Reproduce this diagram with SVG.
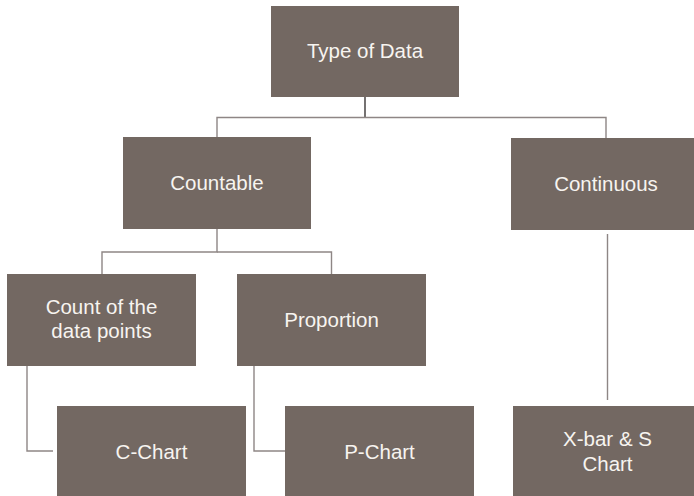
<svg xmlns="http://www.w3.org/2000/svg" width="694" height="496" viewBox="0 0 694 496">
<style>
.box{fill:#736862}
.lbl{font-family:"Liberation Sans",Arial,sans-serif;font-size:20.5px;fill:#f7f4f0;text-anchor:middle}
.ln{fill:none;stroke:#8e8685;stroke-width:1.4}
</style>
<rect width="694" height="496" fill="#ffffff"/>
<g id="connectors">
<path class="ln" d="M365,97 V117" style="stroke:#3a3535"/>
<path class="ln" d="M217,137 V117.5 H606 V138"/>
<path class="ln" d="M217,229 V252 H102 V274"/>
<path class="ln" d="M217,252 H331.5 V274"/>
<path class="ln" d="M607.5,234 V400"/>
<path class="ln" d="M27,366 V451 H53"/>
<path class="ln" d="M254,366 V451 H285"/>
</g>
<g id="type-of-data"><rect class="box" x="271" y="6" width="188" height="91"/><text class="lbl" x="365" y="58">Type of Data</text></g>
<g id="countable"><rect class="box" x="123" y="137" width="188" height="92"/><text class="lbl" x="217" y="190">Countable</text></g>
<g id="continuous"><rect class="box" x="511" y="138" width="189" height="92"/><text class="lbl" x="606" y="190.5">Continuous</text></g>
<g id="count"><rect class="box" x="7" y="274" width="189" height="92"/><text class="lbl" x="101.5" y="314">Count of the</text><text class="lbl" x="101.5" y="338">data points</text></g>
<g id="proportion"><rect class="box" x="237" y="274" width="189" height="92"/><text class="lbl" x="331.5" y="327">Proportion</text></g>
<g id="c-chart"><rect class="box" x="57" y="406" width="189" height="92"/><text class="lbl" x="151.5" y="459">C-Chart</text></g>
<g id="p-chart"><rect class="box" x="285" y="406" width="189" height="92"/><text class="lbl" x="379.5" y="459">P-Chart</text></g>
<g id="xbar-s"><rect class="box" x="513" y="406" width="189" height="92"/><text class="lbl" x="607.5" y="446">X-bar &amp; S</text><text class="lbl" x="607.5" y="471">Chart</text></g>
</svg>
